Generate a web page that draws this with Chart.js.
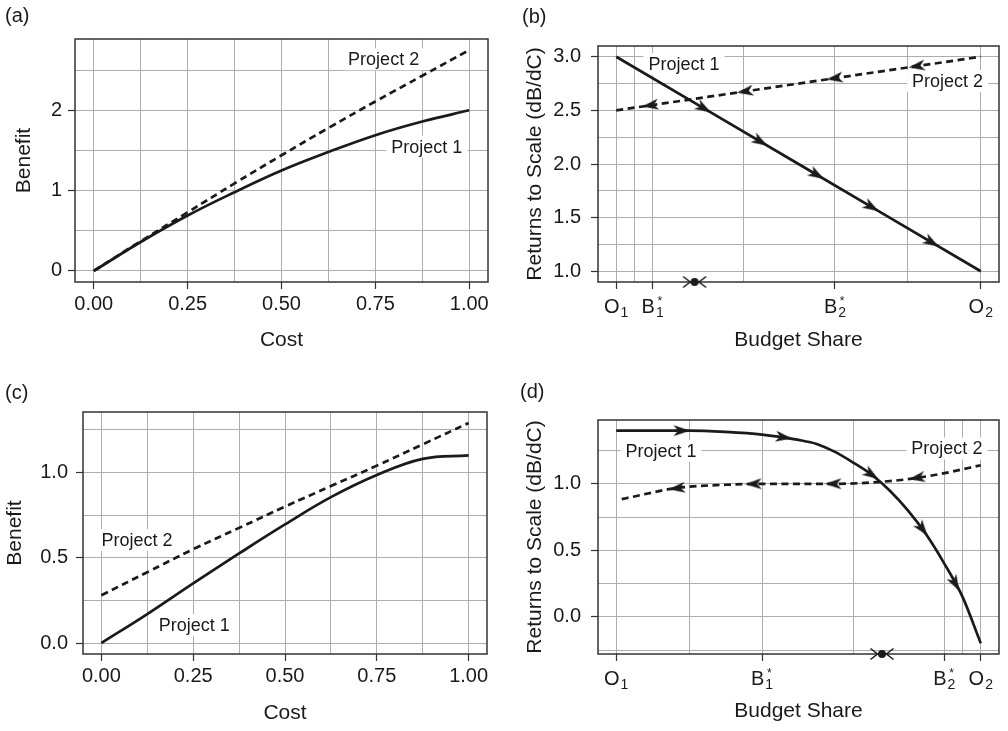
<!DOCTYPE html>
<html>
<head>
<meta charset="utf-8">
<script src="https://cdn.jsdelivr.net/npm/chart.js@4.4.1/dist/chart.umd.min.js"></script>
<style>
    body { margin: 0; background: #fff; }
    canvas { position: absolute; }
</style>
</head>
<body>
<canvas id="chartA" width="504" height="360" style="left:0;top:0"></canvas>
<canvas id="chartB" width="504" height="360" style="left:504px;top:0"></canvas>
<canvas id="chartC" width="504" height="371" style="left:0;top:360px"></canvas>
<canvas id="chartD" width="504" height="371" style="left:504px;top:360px"></canvas>

<script>
    // ---- data ----
    // (a) benefit curves
    var costA = [0, 0.125, 0.25, 0.375, 0.5, 0.625, 0.75, 0.875, 1.0];
    var benefitA1 = [0, 0.36, 0.69, 0.98, 1.25, 1.48, 1.69, 1.86, 2.0];
    var benefitA2 = [0, 0.37, 0.73, 1.09, 1.44, 1.78, 2.11, 2.43, 2.75];

    // (b) returns to scale over the budget share
    var shareB = [0, 0.25, 0.5, 0.75, 1.0];
    var rtsB1 = [3.0, 2.5, 2.0, 1.5, 1.0];
    var rtsB2 = [2.5, 2.625, 2.75, 2.875, 3.0];
    var arrowsB1 = [[0.24, 2.52], [0.395, 2.21], [0.55, 1.90], [0.70, 1.60], [0.865, 1.27]];
    var arrowsB2 = [[0.094, 2.547], [0.354, 2.677], [0.60, 2.80], [0.825, 2.912]];
    var equilibriumB = [0.215];

    // (c) benefit curves
    var costC = [0, 0.125, 0.25, 0.375, 0.5, 0.625, 0.75, 0.875, 1.0];
    var benefitC1 = [0, 0.17, 0.35, 0.525, 0.695, 0.855, 0.985, 1.08, 1.10];
    var benefitC2 = [0.28, 0.415, 0.55, 0.675, 0.80, 0.92, 1.04, 1.165, 1.29];

    // (d) returns to scale over the budget share
    var shareD1 = [0, 0.1, 0.2, 0.3, 0.4, 0.5, 0.55, 0.6, 0.65, 0.7, 0.75, 0.8, 0.85, 0.9, 0.95, 1.0];
    var rtsD1 = [1.40, 1.40, 1.40, 1.39, 1.37, 1.33, 1.30, 1.24, 1.16, 1.07, 0.95, 0.80, 0.62, 0.40, 0.15, -0.20];
    var shareD2 = [0.015, 0.05, 0.1, 0.15, 0.2, 0.3, 0.4, 0.5, 0.6, 0.7, 0.8, 0.9, 1.0];
    var rtsD2 = [0.885, 0.905, 0.935, 0.962, 0.978, 0.993, 1.0, 1.0, 1.0, 1.01, 1.035, 1.08, 1.14];
    var arrowsD1 = [[0.179, 1.40], [0.459, 1.35], [0.70, 1.07], [0.84, 0.66], [0.93, 0.25]];
    var arrowsD2 = [[0.167, 0.967], [0.377, 0.999], [0.596, 1.0], [0.825, 1.045]];
    var equilibriumD = [0.729];

    // tick breaks
    var costMajor = [0, 0.25, 0.5, 0.75, 1.0];
    var costMinor = [0.125, 0.375, 0.625, 0.875];
    var benefitMajorA = [0, 1, 2];
    var benefitMinorA = [0.5, 1.5, 2.5];
    var benefitMajorC = [0, 0.5, 1.0];
    var benefitMinorC = [0.25, 0.75, 1.25];
    var shareMajorB = [0, 0.1, 0.6, 1.0];
    var shareMinorB = [0.05, 0.35, 0.8];
    var shareNamesB = [['O', '1', ''], ['B', '1', '*'], ['B', '2', '*'], ['O', '2', '']];
    var rtsMajorB = [1.0, 1.5, 2.0, 2.5, 3.0];
    var rtsMinorB = [1.25, 1.75, 2.25, 2.75];
    var shareMajorD = [0, 0.4, 0.9, 1.0];
    var shareMinorD = [0.2, 0.65, 0.95];
    var shareNamesD = [['O', '1', ''], ['B', '1', '*'], ['B', '2', '*'], ['O', '2', '']];
    var rtsMajorD = [0, 0.5, 1.0];
    var rtsMinorD = [-0.25, 0.25, 0.75, 1.25];

    // curve labels
    var notesA = [['Project 2', 0.772, 2.635], ['Project 1', 0.887, 1.547]];
    var notesB = [['Project 1', 0.186, 2.93], ['Project 2', 0.909, 2.774]];
    var notesC = [['Project 2', 0.097, 0.604], ['Project 1', 0.253, 0.104]];
    var notesD = [['Project 1', 0.123, 1.248], ['Project 2', 0.907, 1.266]];

    // ---- drawing ----
    var FONT = "'Liberation Sans', Arial, Helvetica, sans-serif";
    var INK = '#1a1a1a';
    Chart.defaults.font.family = FONT;
    Chart.defaults.color = INK;

    function zip(xs, ys) {
        return xs.map(function (x, i) { return { x: x, y: ys[i] }; });
    }
    function pairs(list) {
        return list.map(function (p) { return { x: p[0], y: p[1] }; });
    }

    // arrowhead image, pointing right
    var arrowImg = document.createElement('canvas');
    arrowImg.width = 18; arrowImg.height = 13;
    (function () {
        var c = arrowImg.getContext('2d');
        c.fillStyle = INK;
        c.beginPath();
        c.moveTo(17.5, 6.5); c.lineTo(1, 1); c.lineTo(5.5, 6.5); c.lineTo(1, 12);
        c.closePath(); c.fill();
    })();

    // converging arrows round a dot
    var eqImg = document.createElement('canvas');
    eqImg.width = 30; eqImg.height = 14;
    (function () {
        var c = eqImg.getContext('2d');
        c.fillStyle = INK; c.strokeStyle = INK; c.lineWidth = 1.5;
        c.beginPath(); c.arc(15, 7, 4, 0, Math.PI * 2); c.fill();
        c.beginPath();
        c.moveTo(3.5, 1.5); c.lineTo(10.5, 7); c.lineTo(3.5, 12.5);
        c.moveTo(26.5, 1.5); c.lineTo(19.5, 7); c.lineTo(26.5, 12.5);
        c.stroke();
    })();

    function arrowRotation(ctx) {
        if (ctx.dataIndex === undefined) return 0;
        var ds = ctx.dataset, ch = ctx.chart;
        var p = ds.data[ctx.dataIndex], line = ds.along;
        var i = 0;
        while (i < line.length - 2 && line[i + 1].x < p.x) i++;
        var xs = ch.scales.x, ys = ch.scales.y;
        var dx = xs.getPixelForValue(line[i + 1].x) - xs.getPixelForValue(line[i].x);
        var dy = ys.getPixelForValue(line[i + 1].y) - ys.getPixelForValue(line[i].y);
        return Math.atan2(dy, dx) * 180 / Math.PI + (ds.backward ? 180 : 0);
    }

    // smooth: 'spline', 'monotone' or nothing
    function curve(points, dashed, smooth) {
        return {
            type: 'line', data: points, borderColor: INK, borderWidth: 2.7,
            borderDash: dashed ? [7, 4.5] : [], pointRadius: 0, fill: false,
            cubicInterpolationMode: smooth === 'monotone' ? 'monotone' : 'default',
            tension: smooth === 'spline' ? 0.4 : 0
        };
    }
    function arrows(points, along, backward) {
        return {
            type: 'scatter', data: points, along: along, backward: backward,
            pointStyle: arrowImg, rotation: arrowRotation, pointRadius: 8
        };
    }
    function equilibrium(xs, yBottom) {
        return {
            type: 'scatter', clip: false, pointStyle: eqImg, pointRadius: 8,
            data: xs.map(function (x) { return { x: x, y: yBottom }; })
        };
    }

    function tickList(major, minor) {
        return major.concat(minor).sort(function (a, b) { return a - b; })
            .map(function (v) { return { value: v }; });
    }
    function isIn(list, v) {
        return list.some(function (m) { return Math.abs(m - v) < 1e-9; });
    }
    function gridOpts(major) {
        return {
            color: '#adadad', lineWidth: 1, tickLength: 7, tickWidth: 1.2,
            tickColor: function (ctx) {
                return ctx.tick && isIn(major, ctx.tick.value) ? '#333' : 'rgba(0,0,0,0)';
            }
        };
    }

    var decor = {
        id: 'decor',
        beforeDatasetsDraw: function (chart) {
            var p = chart.options.plugins.decor, c = chart.ctx, a = chart.chartArea;
            var xs = chart.scales.x, ys = chart.scales.y;
            c.save();
            c.strokeStyle = '#333'; c.lineWidth = 1.5;
            c.strokeRect(a.left, a.top, a.right - a.left, a.bottom - a.top);
            c.font = '18px ' + FONT;
            c.textAlign = 'center'; c.textBaseline = 'middle';
            p.notes.forEach(function (n) {
                var px = xs.getPixelForValue(n[1]), py = ys.getPixelForValue(n[2]);
                var w = c.measureText(n[0]).width;
                c.fillStyle = '#fff';
                c.fillRect(px - w / 2 - 5, py - 11, w + 10, 22);
                c.fillStyle = INK;
                c.fillText(n[0], px, py + 1);
            });
            c.restore();
        },
        afterDraw: function (chart) {
            var p = chart.options.plugins.decor, c = chart.ctx, a = chart.chartArea;
            c.save();
            c.fillStyle = INK;
            c.font = '20px ' + FONT;
            c.textAlign = 'left'; c.textBaseline = 'middle';
            c.fillText(p.letter[0], p.letter[1], p.letter[2]);
            if (p.names) {
                var xs = chart.scales.x, base = a.bottom + 31;
                p.ticks.forEach(function (v, i) {
                    var nm = p.names[i], px = xs.getPixelForValue(v);
                    c.font = '20px ' + FONT;
                    var wb = c.measureText(nm[0]).width;
                    c.font = '14px ' + FONT;
                    var ws = c.measureText(nm[1]).width;
                    var x0 = px - (wb + 1 + ws) / 2;
                    c.textBaseline = 'alphabetic'; c.textAlign = 'left';
                    c.font = '20px ' + FONT;
                    c.fillText(nm[0], x0, base);
                    c.font = '14px ' + FONT;
                    c.fillText(nm[1], x0 + wb + 1, base + 4);
                    if (nm[2]) {
                        c.font = '12px ' + FONT;
                        c.textAlign = 'center';
                        c.fillText(nm[2], x0 + wb + 1 + ws / 2, base - 8);
                    }
                });
            }
            c.restore();
        }
    };

    function buildPanel(id, p) {
        var cv = document.getElementById(id);
        var W = cv.width, H = cv.height;
        return new Chart(cv, {
            type: 'line',
            data: { datasets: p.datasets },
            options: {
                responsive: false,
                devicePixelRatio: 1,
                animation: false,
                events: [],
                layout: { padding: { left: 0, top: p.box[1], right: W - p.box[2], bottom: 0 } },
                plugins: {
                    legend: { display: false },
                    tooltip: { enabled: false },
                    decor: { notes: p.notes, letter: p.letter, names: p.xNames, ticks: p.xMajor }
                },
                scales: {
                    x: {
                        type: 'linear', min: -0.05, max: 1.05,
                        afterBuildTicks: function (s) { s.ticks = tickList(p.xMajor, p.xMinor); },
                        afterFit: function (s) { s.height = H - p.box[3]; },
                        ticks: {
                            autoSkip: false, maxRotation: 0, minRotation: 0, padding: 3,
                            font: { size: 20 }, color: INK,
                            callback: function (v) {
                                if (p.xNames || !isIn(p.xMajor, v)) return '';
                                return v.toFixed(2);
                            }
                        },
                        grid: gridOpts(p.xMajor),
                        border: { display: false },
                        title: {
                            display: true, text: p.xTitle, color: INK, font: { size: 21 },
                            padding: { top: 0, bottom: p.xTitlePad }
                        }
                    },
                    y: {
                        type: 'linear', min: p.yRange[0], max: p.yRange[1],
                        afterBuildTicks: function (s) { s.ticks = tickList(p.yMajor, p.yMinor); },
                        afterFit: function (s) { s.width = p.box[0]; },
                        ticks: {
                            autoSkip: false, padding: p.yTickPad, font: { size: 20 }, color: INK,
                            callback: function (v) {
                                if (!isIn(p.yMajor, v)) return '';
                                return v.toFixed(p.yDigits);
                            }
                        },
                        grid: gridOpts(p.yMajor),
                        border: { display: false },
                        title: {
                            display: true, text: p.yTitle, color: INK, font: { size: 21 },
                            padding: { top: p.yTitlePad, bottom: 0 }
                        }
                    }
                }
            },
            plugins: [decor]
        });
    }

    var curveB1 = zip(shareB, rtsB1), curveB2 = zip(shareB, rtsB2);
    var curveD1 = zip(shareD1, rtsD1), curveD2 = zip(shareD2, rtsD2);

    buildPanel('chartA', {
        box: [75, 39, 488, 282],
        yRange: [-0.1375, 2.8875], yDigits: 0, yTickPad: 6, yTitlePad: 12, xTitlePad: 7,
        xMajor: costMajor, xMinor: costMinor, yMajor: benefitMajorA, yMinor: benefitMinorA,
        xTitle: 'Cost', yTitle: 'Benefit', letter: ['(a)', 5, 16], notes: notesA,
        datasets: [curve(zip(costA, benefitA1), false, 'spline'), curve(zip(costA, benefitA2), true, 'spline')]
    });

    buildPanel('chartB', {
        box: [94, 46, 499, 282],
        yRange: [0.9, 3.1], yDigits: 1, yTickPad: 10, yTitlePad: 19, xTitlePad: 7,
        xMajor: shareMajorB, xMinor: shareMinorB, yMajor: rtsMajorB, yMinor: rtsMinorB,
        xNames: shareNamesB,
        xTitle: 'Budget Share', yTitle: 'Returns to Scale (dB/dC)', letter: ['(b)', 18, 17], notes: notesB,
        datasets: [
            equilibrium(equilibriumB, 0.9),
            arrows(pairs(arrowsB1), curveB1, false),
            arrows(pairs(arrowsB2), curveB2, true),
            curve(curveB1, false), curve(curveB2, true)
        ]
    });

    buildPanel('chartC', {
        box: [83, 52, 487, 294],
        yRange: [-0.0645, 1.3545], yDigits: 1, yTickPad: 8, yTitlePad: 3, xTitlePad: 5,
        xMajor: costMajor, xMinor: costMinor, yMajor: benefitMajorC, yMinor: benefitMinorC,
        xTitle: 'Cost', yTitle: 'Benefit', letter: ['(c)', 5, 33], notes: notesC,
        datasets: [curve(zip(costC, benefitC1), false, 'spline'), curve(zip(costC, benefitC2), true, 'spline')]
    });

    buildPanel('chartD', {
        box: [94, 60, 499, 294],
        yRange: [-0.28, 1.48], yDigits: 1, yTickPad: 10, yTitlePad: 19, xTitlePad: 7,
        xMajor: shareMajorD, xMinor: shareMinorD, yMajor: rtsMajorD, yMinor: rtsMinorD,
        xNames: shareNamesD,
        xTitle: 'Budget Share', yTitle: 'Returns to Scale (dB/dC)', letter: ['(d)', 16, 32], notes: notesD,
        datasets: [
            equilibrium(equilibriumD, -0.28),
            arrows(pairs(arrowsD1), curveD1, false),
            arrows(pairs(arrowsD2), curveD2, true),
            curve(curveD1, false, 'monotone'), curve(curveD2, true, 'monotone')
        ]
    });
</script>
</body>
</html>
